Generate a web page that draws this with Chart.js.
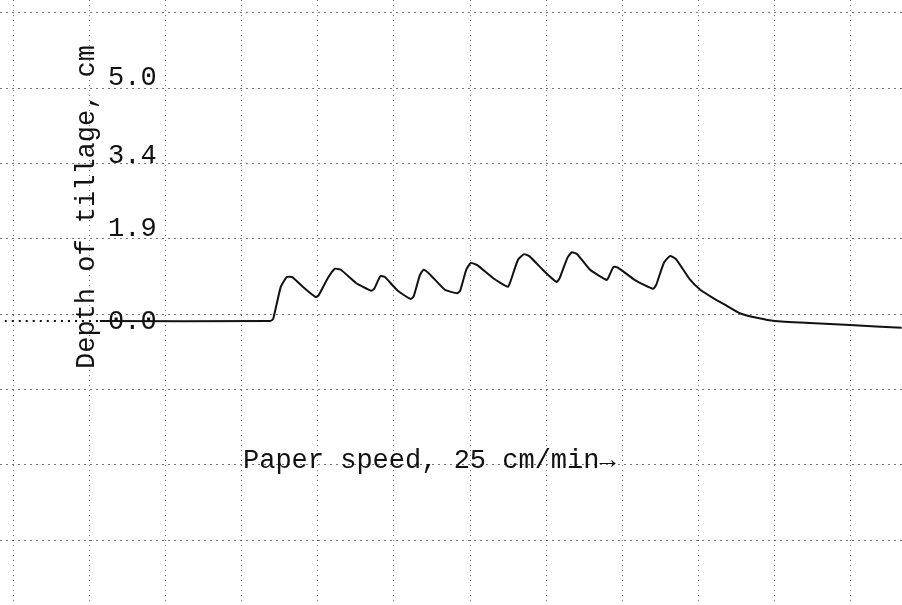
<!DOCTYPE html>
<html lang="en">
  <head>
    <meta charset="UTF-8" />
    <title>Depth of tillage record</title>
    <style>
      html, body { margin: 0; padding: 0; background: #fff; }
      .container--trace { width: 902px; height: 605px; position: relative; }
    </style>
  </head>
  <body>
    <main>
      <div class="container--trace">
        <canvas id="myChart"></canvas>
      </div>
    </main>
    <script src="https://cdn.jsdelivr.net/npm/chart.js@4/dist/chart.umd.min.js"></script>
    <script>
      // recorder trace: x in chart-paper divisions, y in cm of tillage depth
      const paperDiv = [
        -0.12, 1.13, 3.37, 3.41, 3.51, 3.59, 3.66, 3.83, 3.97, 4.01,
        4.13, 4.22, 4.30, 4.50, 4.70, 4.74, 4.82, 4.88, 5.05, 5.22,
        5.26, 5.34, 5.39, 5.47, 5.67, 5.83, 5.87, 5.95, 6.01, 6.09,
        6.32, 6.50, 6.53, 6.63, 6.71, 6.78, 6.99, 7.14, 7.18, 7.28,
        7.34, 7.41, 7.58, 7.80, 7.83, 7.89, 7.95, 8.17, 8.41, 8.45,
        8.55, 8.63, 8.71, 8.89, 9.03, 9.20, 9.38, 9.55, 9.79, 10.01,
        10.47, 11.0, 11.68
      ];
      const depthCm = [
        0.02, 0.02, 0.02, 0.06, 0.72, 0.92, 0.92, 0.68, 0.51, 0.55,
        0.90, 1.09, 1.07, 0.80, 0.64, 0.68, 0.94, 0.92, 0.64, 0.47,
        0.53, 0.96, 1.07, 0.98, 0.66, 0.59, 0.64, 1.07, 1.21, 1.17,
        0.88, 0.72, 0.82, 1.27, 1.39, 1.35, 1.02, 0.82, 0.90, 1.31,
        1.43, 1.39, 1.07, 0.86, 0.94, 1.13, 1.11, 0.86, 0.68, 0.76,
        1.21, 1.35, 1.29, 0.88, 0.66, 0.49, 0.33, 0.18, 0.08, 0.02,
        -0.02, -0.06, -0.12
      ];
      const depthTicks = [0.0, 1.9, 3.4, 5.0];
      const gridCols = [0, 1, 2, 3, 4, 5, 6, 7, 8, 9, 10, 11];
      const gridRows = [0, 1, 2, 3, 4, 5, 6, 7];

      const yTitle = 'Depth of tillage, cm';
      const xTitle = 'Paper speed, 25 cm/min\u2192';
      const typeFont = '27px "Liberation Mono", "DejaVu Sans Mono", monospace';

      const paperGrid = {
        display: true,
        color: 'rgba(30, 30, 30, 0.6)',
        lineWidth: 1,
        drawTicks: false,
      };

      // typewritten labels on the record
      const labelsPlugin = {
        id: 'typedLabels',
        afterDatasetsDraw(chart) {
          const ctx = chart.ctx;
          const y = chart.scales.y;
          ctx.save();
          ctx.fillStyle = '#111';
          ctx.font = typeFont;
          ctx.textAlign = 'left';
          ctx.textBaseline = 'middle';
          depthTicks.forEach((v) => {
            ctx.fillText(v.toFixed(1), 108, y.getPixelForValue(v));
          });
          ctx.fillText(xTitle, 243, 461);
          ctx.translate(87, 207);
          ctx.rotate(-Math.PI / 2);
          ctx.textAlign = 'center';
          ctx.fillText(yTitle, 0, 0);
          ctx.restore();
        },
      };

      const data = {
        datasets: [
          {
            label: 'Depth',
            data: paperDiv.map((x, i) => ({ x: x, y: depthCm[i] })),
            borderColor: '#111',
            borderWidth: 2,
            pointRadius: 0,
            tension: 0.15,
            yAxisID: 'y',
            segment: {
              // the pen leaves a dotted run before the recording starts
              borderDash: (c) => (c.p1.parsed.x < 1.2 ? [2, 5] : undefined),
            },
          },
        ],
      };

      const config = {
        type: 'line',
        data: data,
        options: {
          animation: { duration: 0 },
          responsive: true,
          maintainAspectRatio: false,
          layout: { padding: 0 },
          plugins: {
            legend: { display: false },
            tooltip: { enabled: false },
          },
          scales: {
            x: {
              type: 'linear',
              min: -0.184,
              max: 11.684,
              border: { display: false, dash: [1, 4] },
              ticks: { display: false },
              grid: paperGrid,
              afterBuildTicks: (s) => { s.ticks = gridCols.map((v) => ({ value: v })); },
            },
            y: {
              display: false,
              min: -5.799,
              max: 6.598,
            },
            paper: {
              position: 'left',
              reverse: true,
              min: -0.1726,
              max: 7.862,
              border: { display: false, dash: [2, 4] },
              ticks: { display: false },
              grid: paperGrid,
              afterBuildTicks: (s) => { s.ticks = gridRows.map((v) => ({ value: v })); },
            },
          },
        },
        plugins: [labelsPlugin],
      };

      const myChart = new Chart(document.getElementById('myChart'), config);
    </script>
  </body>
</html>
